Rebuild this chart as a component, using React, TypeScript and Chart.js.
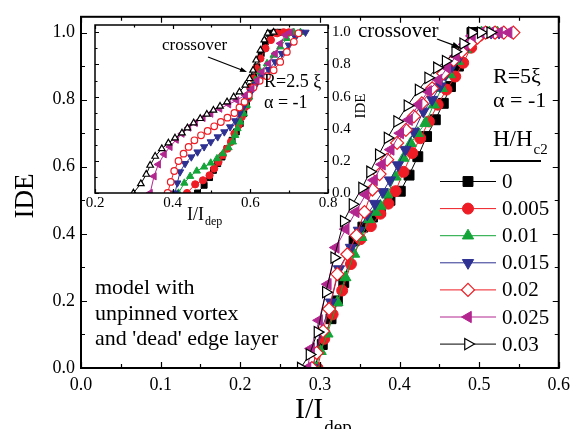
import React, { useEffect, useRef } from 'react';
import { Chart, registerables } from 'chart.js';
import { drawPoint } from 'chart.js/helpers';

Chart.register(...registerables);

const FONT = '"Liberation Serif", "Times New Roman", serif';

const seriesLabels = ['0', '0.005', '0.01', '0.015', '0.02', '0.025', '0.03'];
const seriesColors = ['#000000', '#ee1c24', '#13a538', '#2e3192', '#ee1c24', '#b3268f', '#000000'];

// ---- main panel: R = 5 xi ----
const mainX0 = [0.293, 0.303, 0.314, 0.322, 0.330, 0.343, 0.354, 0.366, 0.376, 0.388, 0.401, 0.412, 0.423, 0.434, 0.445, 0.455, 0.464, 0.474, 0.483, 0.491, 0.500];
const mainY0 = [0, 0.07, 0.147, 0.20, 0.255, 0.379, 0.42, 0.45, 0.468, 0.50, 0.527, 0.575, 0.63, 0.69, 0.74, 0.789, 0.839, 0.9, 0.955, 1.0, 1.0];
const mainX1 = [0.297, 0.3055, 0.316, 0.328, 0.339, 0.351, 0.364, 0.376, 0.386, 0.395, 0.405, 0.416, 0.426, 0.437, 0.448, 0.459, 0.470, 0.480, 0.490, 0.500, 0.510, 0.520];
const mainY1 = [0, 0.087, 0.16, 0.231, 0.31, 0.384, 0.423, 0.46, 0.49, 0.527, 0.585, 0.641, 0.685, 0.735, 0.785, 0.83, 0.869, 0.91, 0.955, 0.99, 1.0, 1.0];
const mainX2 = [0.295, 0.301, 0.3095, 0.322, 0.332, 0.343, 0.352, 0.3615, 0.370, 0.376, 0.3845, 0.395, 0.405, 0.414, 0.423, 0.4325, 0.443, 0.453, 0.463, 0.473, 0.483, 0.493, 0.503, 0.513, 0.523];
const mainY2 = [0, 0.05, 0.102, 0.196, 0.27, 0.34, 0.39, 0.443, 0.465, 0.483, 0.517, 0.57, 0.626, 0.67, 0.70, 0.73, 0.785, 0.834, 0.875, 0.915, 0.95, 0.98, 1.0, 1.0, 1.0];
const mainX3 = [0.291, 0.301, 0.314, 0.324, 0.339, 0.349, 0.3595, 0.369, 0.379, 0.388, 0.398, 0.4075, 0.418, 0.430, 0.441, 0.451, 0.4575, 0.466, 0.476, 0.486, 0.495, 0.505, 0.515, 0.525];
const mainY3 = [0, 0.107, 0.196, 0.295, 0.359, 0.41, 0.458, 0.49, 0.525, 0.56, 0.605, 0.651, 0.705, 0.765, 0.80, 0.84, 0.874, 0.90, 0.93, 0.96, 0.99, 1.0, 1.0, 1.0];
const mainX4 = [0.290, 0.296, 0.304, 0.3115, 0.322, 0.3345, 0.346, 0.356, 0.366, 0.375, 0.3845, 0.397, 0.408, 0.418, 0.428, 0.441, 0.455, 0.468, 0.478, 0.489, 0.498, 0.508, 0.520, 0.531, 0.543];
const mainY4 = [0, 0.045, 0.11, 0.176, 0.28, 0.339, 0.395, 0.465, 0.532, 0.578, 0.621, 0.671, 0.710, 0.750, 0.789, 0.834, 0.878, 0.918, 0.943, 0.967, 0.985, 1.0, 1.0, 1.0, 1.0];
const mainX5 = [0.2845, 0.289, 0.299, 0.310, 0.320, 0.3325, 0.345, 0.3575, 0.368, 0.378, 0.389, 0.401, 0.412, 0.424, 0.436, 0.449, 0.460, 0.471, 0.482, 0.491, 0.502, 0.514, 0.525, 0.537];
const mainY5 = [0, 0.058, 0.142, 0.25, 0.359, 0.414, 0.465, 0.517, 0.560, 0.607, 0.651, 0.700, 0.740, 0.785, 0.825, 0.859, 0.895, 0.930, 0.965, 0.99, 1.0, 1.0, 1.0, 1.0];
const mainX6 = [0.276, 0.287, 0.297, 0.3075, 0.318, 0.330, 0.341, 0.353, 0.363, 0.374, 0.385, 0.397, 0.410, 0.424, 0.436, 0.447, 0.458, 0.470, 0.480, 0.491, 0.502, 0.514];
const mainY6 = [0, 0.04, 0.107, 0.226, 0.329, 0.438, 0.488, 0.537, 0.585, 0.636, 0.686, 0.735, 0.782, 0.829, 0.865, 0.895, 0.915, 0.943, 0.967, 1.0, 1.0, 1.0];

// ---- inset: R = 2.5 xi ----
const insetX0 = [0.464, 0.481, 0.495, 0.505, 0.516, 0.527, 0.540, 0.553, 0.564, 0.574, 0.583, 0.590, 0.596, 0.602, 0.609, 0.617, 0.628, 0.639, 0.650, 0.664, 0.677];
const insetY0 = [0, 0.048, 0.096, 0.141, 0.183, 0.224, 0.276, 0.328, 0.380, 0.432, 0.494, 0.546, 0.598, 0.661, 0.723, 0.785, 0.868, 0.941, 0.994, 1.0, 1.0];
const insetX1 = [0.437, 0.458, 0.478, 0.495, 0.507, 0.518, 0.529, 0.540, 0.550, 0.559, 0.570, 0.578, 0.587, 0.594, 0.600, 0.607, 0.615, 0.626, 0.639, 0.653, 0.669, 0.686, 0.699];
const insetY1 = [0, 0.054, 0.079, 0.110, 0.152, 0.193, 0.235, 0.276, 0.318, 0.370, 0.422, 0.474, 0.536, 0.588, 0.650, 0.712, 0.775, 0.837, 0.900, 0.952, 0.994, 1.0, 1.0];
const insetX2 = [0.415, 0.430, 0.445, 0.462, 0.481, 0.498, 0.514, 0.529, 0.544, 0.555, 0.561, 0.567, 0.574, 0.583, 0.591, 0.597, 0.604, 0.613, 0.626, 0.643, 0.660, 0.677, 0.694, 0.712, 0.729];
const insetY2 = [0, 0.062, 0.104, 0.137, 0.162, 0.187, 0.214, 0.245, 0.282, 0.318, 0.359, 0.401, 0.442, 0.494, 0.546, 0.598, 0.650, 0.702, 0.754, 0.806, 0.858, 0.910, 0.962, 1.0, 1.0];
const insetX3 = [0.406, 0.412, 0.419, 0.432, 0.448, 0.464, 0.481, 0.498, 0.516, 0.533, 0.548, 0.561, 0.572, 0.583, 0.591, 0.602, 0.615, 0.630, 0.647, 0.664, 0.681, 0.699, 0.716, 0.729, 0.742];
const insetY3 = [0, 0.062, 0.131, 0.183, 0.224, 0.255, 0.287, 0.318, 0.349, 0.380, 0.411, 0.449, 0.494, 0.540, 0.582, 0.630, 0.677, 0.723, 0.768, 0.816, 0.868, 0.920, 0.969, 1.0, 1.0];
const insetX4 = [0.387, 0.395, 0.404, 0.415, 0.428, 0.441, 0.456, 0.473, 0.490, 0.507, 0.524, 0.541, 0.559, 0.572, 0.585, 0.596, 0.608, 0.624, 0.643, 0.660, 0.677, 0.694, 0.712, 0.724];
const insetY4 = [0, 0.069, 0.137, 0.199, 0.245, 0.287, 0.328, 0.359, 0.386, 0.415, 0.442, 0.469, 0.498, 0.532, 0.567, 0.609, 0.656, 0.698, 0.727, 0.764, 0.816, 0.878, 0.941, 0.994];
const insetX5 = [0.342, 0.352, 0.363, 0.378, 0.393, 0.409, 0.424, 0.441, 0.458, 0.478, 0.498, 0.521, 0.544, 0.565, 0.587, 0.604, 0.617, 0.630, 0.647, 0.664, 0.677, 0.690, 0.703];
const insetY5 = [0, 0.104, 0.178, 0.241, 0.287, 0.332, 0.369, 0.407, 0.436, 0.467, 0.494, 0.525, 0.552, 0.577, 0.609, 0.650, 0.702, 0.754, 0.806, 0.868, 0.931, 0.983, 1.0];
const insetX6 = [0.299, 0.318, 0.332, 0.342, 0.355, 0.372, 0.389, 0.406, 0.424, 0.438, 0.454, 0.471, 0.488, 0.505, 0.522, 0.540, 0.557, 0.572, 0.587, 0.598, 0.607, 0.615, 0.626, 0.636, 0.645, 0.660];
const insetY6 = [0, 0.058, 0.116, 0.172, 0.228, 0.276, 0.311, 0.342, 0.373, 0.405, 0.436, 0.463, 0.490, 0.515, 0.540, 0.567, 0.598, 0.629, 0.671, 0.712, 0.764, 0.827, 0.889, 0.952, 0.994, 1.0];

const mainXTicks = [0, 0.1, 0.2, 0.3, 0.4, 0.5, 0.6];
const mainYTicks = [0, 0.2, 0.4, 0.6, 0.8, 1.0];
const insetXTicks = [0.2, 0.4, 0.6, 0.8];
const insetYTicks = [0, 0.2, 0.4, 0.6, 0.8, 1.0];

const mainXs = [mainX0, mainX1, mainX2, mainX3, mainX4, mainX5, mainX6];
const mainYs = [mainY0, mainY1, mainY2, mainY3, mainY4, mainY5, mainY6];
const insetXs = [insetX0, insetX1, insetX2, insetX3, insetX4, insetX5, insetX6];
const insetYs = [insetY0, insetY1, insetY2, insetY3, insetY4, insetY5, insetY6];

type Mk = { style: string; rot: number; filled: boolean; r: number };
const mainMarkers: Mk[] = [
  { style: 'rect', rot: 0, filled: true, r: 7 },
  { style: 'circle', rot: 0, filled: true, r: 5.5 },
  { style: 'triangle', rot: 0, filled: true, r: 6.5 },
  { style: 'triangle', rot: 180, filled: true, r: 6.5 },
  { style: 'rectRot', rot: 0, filled: false, r: 6.5 },
  { style: 'triangle', rot: 270, filled: true, r: 6.5 },
  { style: 'triangle', rot: 90, filled: false, r: 6.5 },
];
const insetMarkers: Mk[] = [
  { style: 'rect', rot: 0, filled: true, r: 4.2 },
  { style: 'circle', rot: 0, filled: true, r: 3.6 },
  { style: 'triangle', rot: 0, filled: true, r: 4.2 },
  { style: 'triangle', rot: 180, filled: true, r: 4.2 },
  { style: 'circle', rot: 0, filled: false, r: 3.3 },
  { style: 'triangle', rot: 270, filled: true, r: 4.2 },
  { style: 'triangle', rot: 0, filled: false, r: 3.8 },
];

const zip = (xs: number[], ys: number[]) => xs.map((x, i) => ({ x, y: ys[i] }));
const mids = (t: number[]) => t.slice(0, -1).map((v, i) => (v + t[i + 1]) / 2);

function makeDatasets(xs: number[][], ys: number[][], mk: Mk[]) {
  return xs.map((x, i) => ({
    label: seriesLabels[i],
    data: zip(x, ys[i]),
    showLine: true,
    borderColor: seriesColors[i],
    borderWidth: 1,
    pointStyle: mk[i].style,
    rotation: mk[i].rot,
    pointRadius: mk[i].r,
    pointBackgroundColor: mk[i].filled ? seriesColors[i] : '#ffffff',
    pointBorderColor: seriesColors[i],
    pointBorderWidth: mk[i].filled ? 1 : 1.2,
    order: 7 - i,
  }));
}

function frameTicksPlugin(id: string, frameW: number, major: number, minor: number) {
  return {
    id,
    afterDraw(chart: any) {
      const { ctx, chartArea: a, scales } = chart;
      const sx = scales.x, sy = scales.y;
      const xt = sx.ticks.map((t: any) => t.value);
      const yt = sy.ticks.map((t: any) => t.value);
      ctx.save();
      ctx.strokeStyle = '#000';
      ctx.lineWidth = frameW;
      ctx.strokeRect(a.left, a.top, a.right - a.left, a.bottom - a.top);
      ctx.lineWidth = 1.2;
      ctx.beginPath();
      const vx = (v: number, len: number) => {
        const p = Math.round(sx.getPixelForValue(v)) + 0.5;
        ctx.moveTo(p, a.bottom); ctx.lineTo(p, a.bottom - len);
        ctx.moveTo(p, a.top); ctx.lineTo(p, a.top + len);
      };
      const vy = (v: number, len: number) => {
        const p = Math.round(sy.getPixelForValue(v)) + 0.5;
        ctx.moveTo(a.left, p); ctx.lineTo(a.left + len, p);
        ctx.moveTo(a.right, p); ctx.lineTo(a.right - len, p);
      };
      xt.forEach((v: number) => vx(v, major));
      mids(xt).forEach((v: number) => vx(v, minor));
      yt.forEach((v: number) => vy(v, major));
      mids(yt).forEach((v: number) => vy(v, minor));
      ctx.stroke();
      ctx.restore();
    },
  };
}

function text(ctx: any, s: string, x: number, y: number, size: number, align = 'left') {
  ctx.font = `${size}px ${FONT}`;
  ctx.fillStyle = '#000';
  ctx.textAlign = align;
  ctx.textBaseline = 'alphabetic';
  ctx.fillText(s, x, y);
  return ctx.measureText(s).width;
}

function subText(ctx: any, main: string, sub: string, x: number, y: number, size: number, subSize: number, subDy: number) {
  const w = text(ctx, main, x, y, size);
  text(ctx, sub, x + w + 1, y + subDy, subSize);
}

function arrow(ctx: any, x0: number, y0: number, x1: number, y1: number, head: number) {
  const ang = Math.atan2(y1 - y0, x1 - x0);
  ctx.save();
  ctx.strokeStyle = '#000';
  ctx.fillStyle = '#000';
  ctx.lineWidth = 1.3;
  ctx.beginPath();
  ctx.moveTo(x0, y0);
  ctx.lineTo(x1 - Math.cos(ang) * head * 0.8, y1 - Math.sin(ang) * head * 0.8);
  ctx.stroke();
  ctx.beginPath();
  ctx.moveTo(x1, y1);
  ctx.lineTo(x1 - Math.cos(ang) * head + Math.sin(ang) * head * 0.35, y1 - Math.sin(ang) * head - Math.cos(ang) * head * 0.35);
  ctx.lineTo(x1 - Math.cos(ang) * head - Math.sin(ang) * head * 0.35, y1 - Math.sin(ang) * head + Math.cos(ang) * head * 0.35);
  ctx.closePath();
  ctx.fill();
  ctx.restore();
}

const mainDecor = {
  id: 'mainDecor',
  afterDraw(chart: any) {
    const ctx = chart.ctx;
    ctx.save();
    // axis titles
    ctx.save();
    ctx.translate(26, 196);
    ctx.rotate(-Math.PI / 2);
    ctx.font = `27px ${FONT}`;
    ctx.fillStyle = '#000';
    ctx.textAlign = 'center';
    ctx.textBaseline = 'middle';
    ctx.fillText('IDE', 0, 0);
    ctx.restore();
    subText(ctx, 'I/I', 'dep', 295, 418, 30, 19, 15);
    // annotations
    text(ctx, 'crossover', 358, 37, 21);
    arrow(ctx, 437, 39, 461, 48, 9);
    text(ctx, 'R=5\u03BE', 493, 83, 22);
    text(ctx, '\u03B1 = -1', 493, 107, 22);
    text(ctx, 'model with', 95, 294, 22);
    text(ctx, 'unpinned vortex', 95, 320, 22);
    text(ctx, "and 'dead' edge layer", 95, 345, 22);
    // legend title
    subText(ctx, 'H/H', 'c2', 493, 146, 23, 15, 8);
    ctx.strokeStyle = '#000';
    ctx.lineWidth = 2;
    ctx.beginPath();
    ctx.moveTo(490, 161);
    ctx.lineTo(541, 161);
    ctx.stroke();
    // legend entries
    seriesLabels.forEach((lab, i) => {
      const y = 181.5 + i * 27.1;
      const m = mainMarkers[i];
      ctx.strokeStyle = seriesColors[i];
      ctx.lineWidth = 1;
      ctx.beginPath();
      ctx.moveTo(440, y);
      ctx.lineTo(496, y);
      ctx.stroke();
      ctx.fillStyle = m.filled ? seriesColors[i] : '#ffffff';
      ctx.strokeStyle = seriesColors[i];
      ctx.lineWidth = m.filled ? 1 : 1.2;
      drawPoint(ctx, { pointStyle: m.style, rotation: m.rot, radius: m.r, borderWidth: ctx.lineWidth } as any, 468, y);
      ctx.font = `21px ${FONT}`;
      ctx.fillStyle = '#000';
      ctx.textAlign = 'left';
      ctx.textBaseline = 'middle';
      ctx.fillText(lab, 502, y + 1);
    });
    ctx.restore();
  },
};

const insetDecor = {
  id: 'insetDecor',
  afterDraw(chart: any) {
    const ctx = chart.ctx;
    ctx.save();
    ctx.save();
    ctx.translate(361, 106);
    ctx.rotate(-Math.PI / 2);
    ctx.font = `15px ${FONT}`;
    ctx.fillStyle = '#000';
    ctx.textAlign = 'center';
    ctx.textBaseline = 'middle';
    ctx.fillText('IDE', 0, 0);
    ctx.restore();
    subText(ctx, 'I/I', 'dep', 187, 220, 18, 12, 5);
    text(ctx, 'crossover', 162, 50, 17);
    arrow(ctx, 208, 57, 247, 72, 7);
    text(ctx, 'R=2.5 \u03BE', 264, 87, 18);
    text(ctx, '\u03B1 = -1', 264, 108, 18);
    ctx.restore();
  },
};

function fixedTicks(vals: number[]) {
  return (scale: any) => {
    scale.ticks = vals.map((v) => ({ value: v }));
  };
}

export default function App() {
  const mainRef = useRef<HTMLCanvasElement>(null);
  const insetRef = useRef<HTMLCanvasElement>(null);

  useEffect(() => {
    const main = new Chart(mainRef.current as HTMLCanvasElement, {
      type: 'scatter',
      data: { datasets: makeDatasets(mainXs, mainYs, mainMarkers) as any },
      options: {
        animation: false,
        responsive: false,
        devicePixelRatio: 1,
        events: [],
        layout: { padding: { left: 0, top: 15, right: 16, bottom: 0 } },
        plugins: { legend: { display: false }, tooltip: { enabled: false } },
        scales: {
          x: {
            type: 'linear',
            min: 0,
            max: 0.6,
            afterBuildTicks: fixedTicks(mainXTicks),
            afterFit: (s: any) => { s.height = 61; },
            grid: { display: false, drawTicks: false },
            border: { display: false },
            ticks: { padding: 6, color: '#000', font: { family: FONT, size: 18 }, maxRotation: 0, callback: (v: any) => Number(v).toFixed(1) },
          },
          y: {
            type: 'linear',
            min: 0,
            max: 1.047,
            afterBuildTicks: fixedTicks(mainYTicks),
            afterFit: (s: any) => { s.width = 81; },
            grid: { display: false, drawTicks: false },
            border: { display: false },
            ticks: { padding: 6, color: '#000', font: { family: FONT, size: 18 }, callback: (v: any) => Number(v).toFixed(1) },
          },
        },
      },
      plugins: [frameTicksPlugin('mainFrame', 2, 6, 4), mainDecor],
    });

    const inset = new Chart(insetRef.current as HTMLCanvasElement, {
      type: 'scatter',
      data: { datasets: makeDatasets(insetXs, insetYs, insetMarkers) as any },
      options: {
        animation: false,
        responsive: false,
        devicePixelRatio: 1,
        events: [],
        layout: { padding: { left: 95, top: 25, right: 576 - 328 - 30, bottom: 429 - 193 - 20 } },
        plugins: { legend: { display: false }, tooltip: { enabled: false } },
        scales: {
          x: {
            type: 'linear',
            min: 0.2,
            max: 0.8,
            afterBuildTicks: fixedTicks(insetXTicks),
            afterFit: (s: any) => { s.height = 20; },
            grid: { display: false, drawTicks: false },
            border: { display: false },
            ticks: { padding: 1, color: '#000', font: { family: FONT, size: 15 }, maxRotation: 0, callback: (v: any) => Number(v).toFixed(1) },
          },
          y: {
            type: 'linear',
            position: 'right',
            min: 0,
            max: 1.0455,
            afterBuildTicks: fixedTicks(insetYTicks),
            afterFit: (s: any) => { s.width = 30; },
            grid: { display: false, drawTicks: false },
            border: { display: false },
            ticks: { padding: 4, color: '#000', font: { family: FONT, size: 15 }, callback: (v: any) => Number(v).toFixed(1) },
          },
        },
      },
      plugins: [frameTicksPlugin('insetFrame', 1.5, 4, 2.5), insetDecor],
    });

    return () => {
      main.destroy();
      inset.destroy();
    };
  }, []);

  return (
    <div style={{ position: 'absolute', left: 0, top: 0, width: 576, height: 429, background: '#fff', overflow: 'hidden' }}>
      <canvas ref={mainRef} width={576} height={429} style={{ position: 'absolute', left: 0, top: 0, width: 576, height: 429 }} />
      <canvas ref={insetRef} width={576} height={429} style={{ position: 'absolute', left: 0, top: 0, width: 576, height: 429 }} />
    </div>
  );
}
